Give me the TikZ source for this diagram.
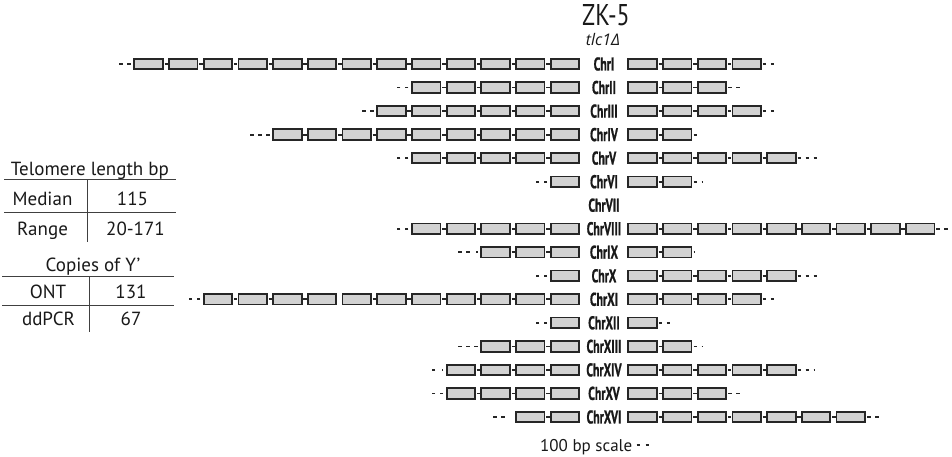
\documentclass[tikz,border=0pt]{standalone}
\usepackage{fontspec}
\setmainfont{PT Sans}
\newfontfamily\chrfont[FakeStretch=0.64,FakeBold=0.8]{PT Sans Bold}
\newfontfamily\titlefont[FakeStretch=0.8]{PT Sans}
\newfontfamily\genefont{Open Sans}

% one chromosome row: #1 y, #2 boxes left of the name, #3 boxes right of it,
% #4 lead dash lengths (box outwards), #5 trail dash lengths, #6 numeral,
% #7 left box (counted from the name) that has no link on its outer side
\newcommand\telrow[7]{%
  \node[chrlabel] (chr#6) at (604,#1) {Chr#6};
  \foreach \k in {1,...,#2} {
    \pgfmathsetmacro\xs{550.7-34.7*(\k-1)}
    \draw[ybox] (\xs,#1-5.25) rectangle ++(28.5,10.5);
    \ifnum\k<#2 \ifnum\k=#7 \else
      \draw[link] ({\xs-4.5},#1) -- ({\xs-1},#1);
    \fi\fi
  }
  \pgfmathsetmacro\xa{550.7-34.7*(#2-1)}
  \foreach \L [count=\i] in {#4} {
    \draw[link] ({\xa-3.5-8*(\i-1)},#1) -- ++(-\L,0);
  }
  \foreach \k in {1,...,#3} {
    \pgfmathsetmacro\xs{628.3+34.7*(\k-1)}
    \draw[ybox] (\xs,#1-5.25) rectangle ++(28.5,10.5);
    \ifnum\k>1
      \draw[link] ({\xs-4.5},#1) -- ({\xs-1},#1);
    \fi
  }
  \pgfmathsetmacro\xe{628.3+34.7*(#3-1)+28.5}
  \foreach \L [count=\i] in {#5} {
    \draw[link] ({\xe+2+8*(\i-1)},#1) -- ++(\L,0);
  }
}

\begin{document}
\begin{tikzpicture}[x=1pt,y=-1pt,
  ybox/.style={draw=black!85, fill=gray!35, line width=1.8pt},
  link/.style={draw=black!85, line width=1.8pt},
  chrlabel/.style={font=\chrfont\fontsize{18.5}{18.5}\selectfont, inner sep=0pt, text=black!90},
  tabtext/.style={font=\fontsize{19}{19}\selectfont, inner sep=0pt, anchor=base, text=black!90},
  rule/.style={draw=black!75, line width=1pt}]
\fill[white] (0,0) rectangle (952,456);
\useasboundingbox (0,0) rectangle (952,456);

% heading
\node[font=\titlefont\fontsize{30}{30}\selectfont, inner sep=0pt, anchor=base, text=black!90,
      text height=20pt, text depth=0pt] (title) at (606,25.8) {ZK-5};
\node[font=\genefont\itshape\fontsize{16}{16}\selectfont, inner sep=0pt, anchor=base, text=black!90,
      text height=11pt, text depth=0pt] (strain) at (603,45.3) {tlc1Δ};

% telomere rows
\telrow{64.0}{13}{4}{3.5,3.5}{3.5,3.5}{I}{0}
\telrow{87.5}{5}{3}{3.5,3.5}{3.5,3.5}{II}{0}
\telrow{111.1}{6}{4}{3.5,3.5}{3.5,3.5}{III}{0}
\telrow{134.6}{9}{2}{3.5,3.5,3.5}{3.5}{IV}{0}
\telrow{158.1}{5}{5}{3.5,3.5}{3.5,3.5,3.5}{V}{0}
\telrow{181.7}{1}{2}{3.5,3.5}{3.5,1.5}{VI}{0}
\node[chrlabel] (chrVII) at (604,205.2) {ChrVII};
\telrow{228.7}{5}{9}{3.5,3.5}{3.5,3.5}{VIII}{0}
\telrow{252.2}{3}{2}{1.5,3.5,3.5}{1.5}{IX}{0}
\telrow{275.8}{1}{5}{3.5,3.5}{3.5,3.5,3.5}{X}{0}
\telrow{299.3}{11}{4}{3.5,3.5}{3.5,3.5}{XI}{7}
\telrow{322.8}{1}{1}{3.5,3.5}{3.5,3.5}{XII}{0}
\telrow{346.4}{3}{2}{3.5,3.5,3.5}{3.5,1.5}{XIII}{0}
\telrow{369.9}{4}{5}{1.5,3.5}{3.5,3.5,1.5}{XIV}{0}
\telrow{393.4}{4}{3}{3.5,3.5}{3.5,3.5}{XV}{0}
\telrow{417.0}{2}{7}{0,3.5,3.5}{3.5,3.5}{XVI}{0}

% scale
\node[font=\fontsize{17}{17}\selectfont, inner sep=0pt, anchor=base west, text=black!90] (scale) at (540,451.7) {100 bp scale};
\draw[link] (636.5,445) -- ++(3.5,0);
\draw[link] (645.5,445) -- ++(3.5,0);

% telomere length table
\node[tabtext] (tlhead) at (90,175) {Telomere length bp};
\draw[rule] (4,179.5) -- (176,179.5);
\draw[rule] (4,212.7) -- (176,212.7);
\draw[rule] (87.3,179.5) -- (87.3,241.7);
\node[tabtext] (median) at (42.5,205) {Median};
\node[tabtext] (medval) at (132.5,205) {115};
\node[tabtext] (range) at (42.5,235) {Range};
\node[tabtext] (rangeval) at (135.5,235) {20-171};

% Y' copies table
\node[tabtext] (yhead) at (93,271.7) {Copies of Y’};
\draw[rule] (2,276.7) -- (174,276.7);
\draw[rule] (2,305) -- (174,305);
\draw[rule] (89.3,276.7) -- (89.3,331.7);
\node[tabtext] (ont) at (48,298.3) {ONT};
\node[tabtext] (ontval) at (131,298.3) {131};
\node[tabtext] (ddpcr) at (48.5,325) {ddPCR};
\node[tabtext] (ddval) at (131,325) {67};
\end{tikzpicture}
\end{document}
